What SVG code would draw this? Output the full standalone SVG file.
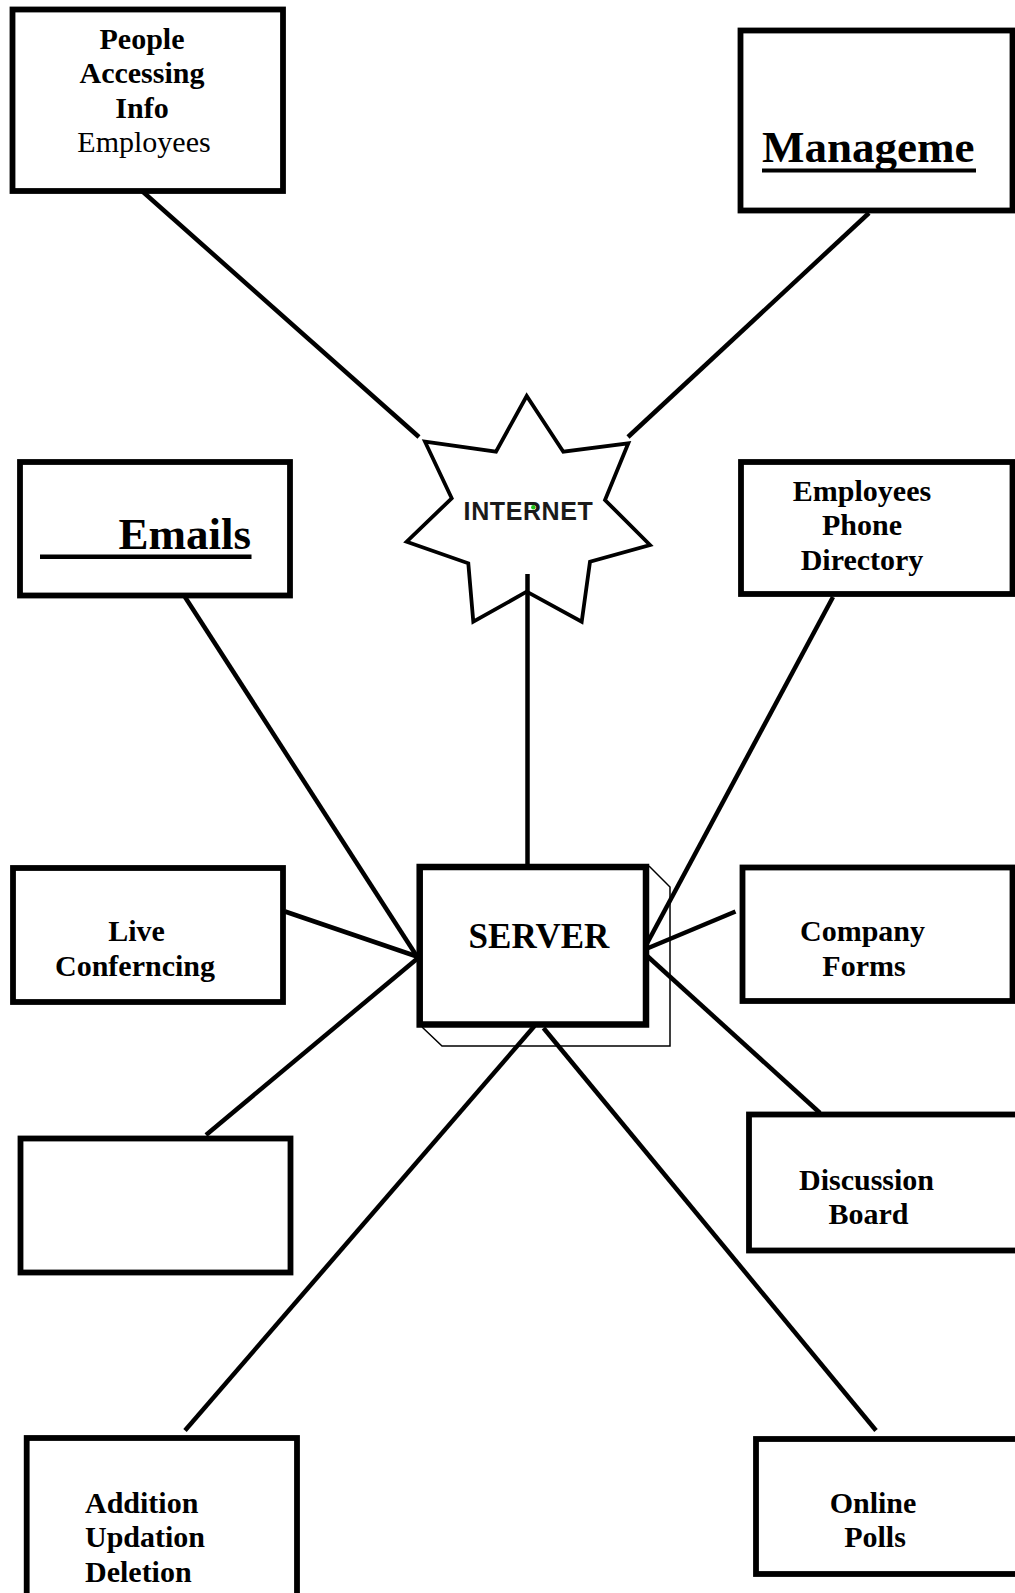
<svg xmlns="http://www.w3.org/2000/svg" width="1015" height="1593" viewBox="0 0 1015 1593">
  <style>
    .box { fill: #fff; stroke: #000; stroke-width: 5.8; }
    .link { stroke: #000; stroke-width: 4.5; fill: none; }
    .lbl { font-family: "Liberation Serif", "Times New Roman", serif; font-weight: bold; font-size: 30px; fill: #000; text-anchor: middle; }
    .big { font-size: 45px; text-anchor: start; }
    .srv { font-size: 35px; }
    .left { text-anchor: start; }
    .reg { font-weight: normal; }
    .uline { fill: #000; }
    .net { font-family: "Liberation Sans", Arial, sans-serif; font-weight: bold; font-size: 25px; fill: #1a1a1a; text-anchor: middle; letter-spacing: 0.6px; }
  </style>
  <rect width="1015" height="1593" fill="#fff"/>

  <!-- connectors -->
  <g id="connectors">
    <line class="link" x1="142" y1="191" x2="419" y2="437"/>
    <line class="link" x1="869" y1="213" x2="628" y2="437"/>
    <line class="link" x1="527.5" y1="574" x2="527.5" y2="865"/>
    <line class="link" x1="185" y1="597" x2="417" y2="956.5"/>
    <line class="link" x1="285" y1="911.5" x2="417" y2="956.5"/>
    <line class="link" x1="206" y1="1135" x2="418" y2="958"/>
    <line class="link" x1="833" y1="597" x2="643.5" y2="950"/>
    <line class="link" x1="735.5" y1="911.5" x2="643.5" y2="950"/>
    <line class="link" x1="820" y1="1113" x2="645" y2="954"/>
    <line class="link" x1="185" y1="1430.5" x2="534.5" y2="1026"/>
    <line class="link" x1="876" y1="1430.5" x2="543.5" y2="1028"/>
  </g>

  <!-- people accessing info -->
  <g id="people">
    <rect class="box" x="12.5" y="9.5" width="270.5" height="181.5"/>
    <text class="lbl" x="142" y="48.5">People</text>
    <text class="lbl" x="142" y="83">Accessing</text>
    <text class="lbl" x="142" y="117.5">Info</text>
    <text class="lbl reg" x="144" y="152">Employees</text>
  </g>

  <!-- management -->
  <g id="management">
    <rect class="box" x="740.5" y="30.5" width="272" height="180"/>
    <text class="lbl big" x="762" y="161.5">Manageme</text>
    <rect class="uline" x="762" y="168.5" width="214" height="4"/>
  </g>

  <!-- internet cloud star -->
  <g id="internet">
    <polygon points="526.7,396 496,451.7 425,441.7 451.7,498.3 406.7,541.7 468.3,563.3 473.3,621.7 526.7,591.7 581.7,621.7 590,561.7 650,545 605,500 628.3,443.3 563.3,451.7" fill="none" stroke="#000" stroke-width="3.8" stroke-linejoin="miter"/>
    <text class="net" x="528.5" y="519.5">INTERNET</text>
    <circle cx="533.3" cy="507.3" r="2.2" fill="#1fbf1f"/>
  </g>

  <!-- emails -->
  <g id="emails">
    <rect class="box" x="20" y="462" width="270" height="133.5"/>
    <text class="lbl big" x="118.5" y="549">Emails</text>
    <rect class="uline" x="40" y="554.5" width="211.5" height="4.5"/>
  </g>

  <!-- employees phone directory -->
  <g id="phone-directory">
    <rect class="box" x="741" y="462" width="271.5" height="132"/>
    <text class="lbl" x="862" y="500.5">Employees</text>
    <text class="lbl" x="862" y="535">Phone</text>
    <text class="lbl" x="862" y="569.5">Directory</text>
  </g>

  <!-- server with extruded side -->
  <g id="server">
    <polyline points="649,866 670,887 670,1046 442,1046 422,1027" fill="none" stroke="#000" stroke-width="1.5"/>
    <rect x="419.7" y="867" width="226.3" height="157.5" fill="#fff" stroke="#000" stroke-width="6.5"/>
    <text class="lbl srv" x="539" y="947.5">SERVER</text>
  </g>

  <!-- live conferencing -->
  <g id="live-conferencing">
    <rect class="box" x="13" y="868" width="270" height="134"/>
    <text class="lbl" x="136.5" y="940.5">Live</text>
    <text class="lbl" x="135" y="976">Conferncing</text>
  </g>

  <!-- company forms -->
  <g id="company-forms">
    <rect class="box" x="742.5" y="867.5" width="270" height="133.5"/>
    <text class="lbl" x="862.5" y="940.5">Company</text>
    <text class="lbl" x="864" y="976">Forms</text>
  </g>

  <!-- empty box -->
  <g id="blank">
    <rect class="box" x="20.5" y="1138.5" width="270" height="134"/>
  </g>

  <!-- discussion board -->
  <g id="discussion-board">
    <rect class="box" x="749" y="1114.5" width="270" height="136"/>
    <text class="lbl" x="866.5" y="1189.5">Discussion</text>
    <text class="lbl" x="868.5" y="1224">Board</text>
  </g>

  <!-- addition / updation / deletion -->
  <g id="add-update-delete">
    <rect class="box" x="26.7" y="1438" width="270.3" height="200"/>
    <text class="lbl left" x="85" y="1512.5">Addition</text>
    <text class="lbl left" x="85" y="1547">Updation</text>
    <text class="lbl left" x="85" y="1581.5">Deletion</text>
  </g>

  <!-- online polls -->
  <g id="online-polls">
    <rect class="box" x="756" y="1439" width="300" height="135"/>
    <text class="lbl" x="873" y="1512.5">Online</text>
    <text class="lbl" x="875" y="1547">Polls</text>
  </g>
</svg>
